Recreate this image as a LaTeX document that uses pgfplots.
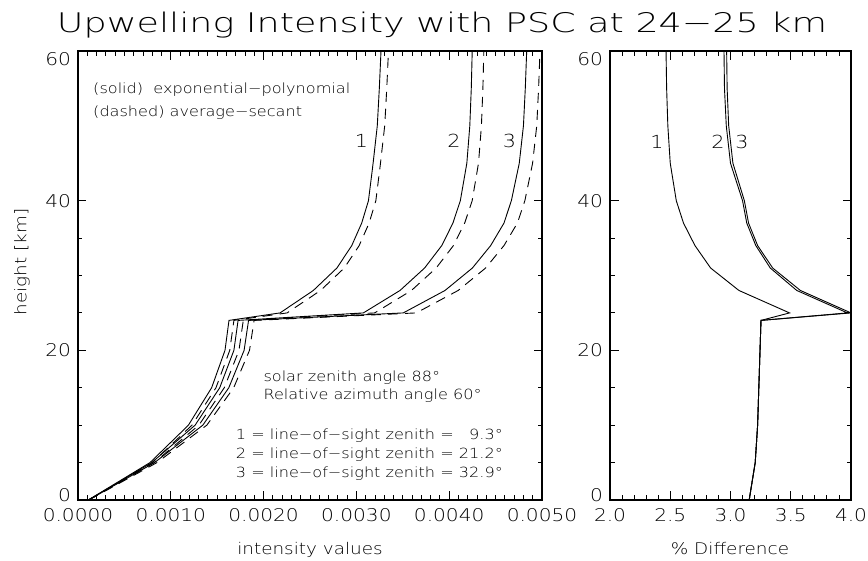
\documentclass[border=0pt]{standalone}
\usepackage{fontspec}
\setmainfont{DejaVuSans-ExtraLight.ttf}[FakeStretch=1.15]
\newfontfamily\titlefont{DejaVuSans-ExtraLight.ttf}[FakeStretch=1.35]
\usepackage{pgfplots}
\pgfplotsset{compat=1.18}

\pgfplotsset{
  idl/.style={
    scale only axis, anchor=south west,
    axis line style={line width=1.1pt},
    tick align=inside, xtick pos=both, ytick pos=both,
    major tick length=8.5pt, minor tick length=4.5pt,
    every tick/.style={black, line width=0.9pt},
    ymin=0, ymax=60, ytick={0,20,40}, minor y tick num=3,
    yticklabels={\raisebox{9pt}{0},20,40},
    extra y ticks={60},
    extra y tick style={yticklabel style={yshift=-8pt}},
    tick label style={font=\fontsize{17.5}{18}\selectfont},
    xticklabel style={yshift=-4.5pt},
    yticklabel style={xshift=-3.5pt},
    /pgf/number format/assume math mode=true,
  },
  sol/.style={black, line width=0.9pt},
  dsh/.style={black, line width=0.9pt, dash pattern=on 10pt off 7pt},
}

\begin{document}
\begin{tikzpicture}[x=1pt,y=1pt]
\path[use as bounding box] (0,0) rectangle (868,560);

% left panel: intensity (x in units of 1e-3)
\begin{axis}[idl, at={(78pt,60pt)}, width=464pt, height=449pt,
    xmin=0, xmax=5, xtick={0,1,2,3,4,5}, minor x tick num=9,
    xticklabels={0.0000,0.0010,0.0020,0.0030,0.0040,0.0050}]
\addplot[sol] coordinates {
  (0.111,0)(0.776,5)(1.190,10)(1.440,15)(1.584,20)(1.627,24)(2.177,25)
  (2.536,28)(2.790,31)(2.950,34)(3.057,37)(3.130,40)(3.180,45)(3.225,50)(3.247,55)(3.265,60)};
\addplot[dsh] coordinates {
  (0.1145,0)(0.8009,5)(1.2284,10)(1.4866,15)(1.6354,20)(1.6799,24)(2.2530,25)
  (2.6139,28)(2.8691,31)(3.0298,34)(3.1368,37)(3.2098,40)(3.2595,45)(3.3050,50)(3.3272,55)(3.3455,60)};
\addplot[sol] coordinates {
  (0.112,0)(0.795,5)(1.262,10)(1.527,15)(1.680,20)(1.725,24)(3.075,25)
  (3.470,28)(3.735,31)(3.920,34)(4.040,37)(4.120,40)(4.190,45)(4.222,50)(4.238,55)(4.248,60)};
\addplot[dsh] coordinates {
  (0.1155,0)(0.8205,5)(1.3027,10)(1.5764,15)(1.7345,20)(1.7811,24)(3.1971,25)
  (3.5932,28)(3.8594,31)(4.0458,34)(4.1667,37)(4.2477,40)(4.3157,45)(4.3472,50)(4.3630,55)(4.3731,60)};
\addplot[sol] coordinates {
  (0.113,0)(0.825,5)(1.345,10)(1.625,15)(1.790,20)(1.838,24)(3.505,25)
  (3.955,28)(4.250,31)(4.447,34)(4.590,37)(4.670,40)(4.755,45)(4.800,50)(4.820,55)(4.835,60)};
\addplot[dsh] coordinates {
  (0.1166,0)(0.8514,5)(1.3884,10)(1.6776,15)(1.8481,20)(1.8978,24)(3.6452,25)
  (4.0966,28)(4.3924,31)(4.5904,34)(4.7346,37)(4.8155,40)(4.8986,45)(4.9433,50)(4.9633,55)(4.9785,60)};

\begin{scope}[every node/.style={font=\fontsize{14}{14}\selectfont, anchor=west, inner sep=0pt}]
\node at (axis cs:0.162,54.9) {(solid)\ \ exponential−polynomial};
\node at (axis cs:0.162,51.7) {(dashed) average−secant};
\node at (axis cs:1.997,16.4) {solar zenith angle 88°};
\node at (axis cs:1.997,14.0) {Relative azimuth angle 60°};
\node at (axis cs:1.70,8.55) {1 = line−of−sight zenith = \phantom{2}9.3°};
\node at (axis cs:1.70,6.0) {2 = line−of−sight zenith = 21.2°};
\node at (axis cs:1.70,3.5) {3 = line−of−sight zenith = 32.9°};
\end{scope}
\begin{scope}[every node/.style={font=\fontsize{18}{18}\selectfont, inner sep=0pt}]
\node at (axis cs:3.055,48.0) {1};
\node at (axis cs:4.05,48.0) {2};
\node at (axis cs:4.65,48.0) {3};
\end{scope}
\end{axis}

% right panel: percent difference
\begin{axis}[idl, at={(610pt,60pt)}, width=241pt, height=449pt,
    xmin=2, xmax=4, xtick={2,2.5,3,3.5,4}, minor x tick num=4,
    xticklabels={2.0,2.5,3.0,3.5,4.0}]
\addplot[sol] coordinates {
  (3.155,0)(3.205,5)(3.225,10)(3.235,15)(3.245,20)(3.253,24)(3.49,25)
  (3.07,28)(2.835,31)(2.705,34)(2.61,37)(2.55,40)(2.50,45)(2.48,50)(2.47,55)(2.465,60)};
\addplot[sol] coordinates {
  (3.155,0)(3.205,5)(3.225,10)(3.235,15)(3.245,20)(3.253,24)(3.97,25)
  (3.55,28)(3.33,31)(3.21,34)(3.135,37)(3.10,40)(3.00,45)(2.965,50)(2.95,55)(2.946,60)};
\addplot[sol] coordinates {
  (3.155,0)(3.205,5)(3.225,10)(3.235,15)(3.245,20)(3.253,24)(4.00,25)
  (3.58,28)(3.35,31)(3.225,34)(3.15,37)(3.115,40)(3.02,45)(2.985,50)(2.972,55)(2.968,60)};
\begin{scope}[every node/.style={font=\fontsize{18}{18}\selectfont, inner sep=0pt}]
\node at (axis cs:2.39,47.8) {1};
\node at (axis cs:2.896,47.8) {2};
\node at (axis cs:3.095,47.8) {3};
\end{scope}
\end{axis}

\node[font=\titlefont\fontsize{27}{27}\selectfont, anchor=base] at (442,527) {Upwelling Intensity with PSC at 24−25 km};
\node[font=\fontsize{16}{16}\selectfont, anchor=base] at (310,5.5) {intensity values};
\node[font=\fontsize{16}{16}\selectfont, anchor=base] at (730,5.5) {\% Difference};
\node[font=\fontsize{16}{16}\selectfont, rotate=90] at (22,298) {height [km]};
\end{tikzpicture}
\end{document}
